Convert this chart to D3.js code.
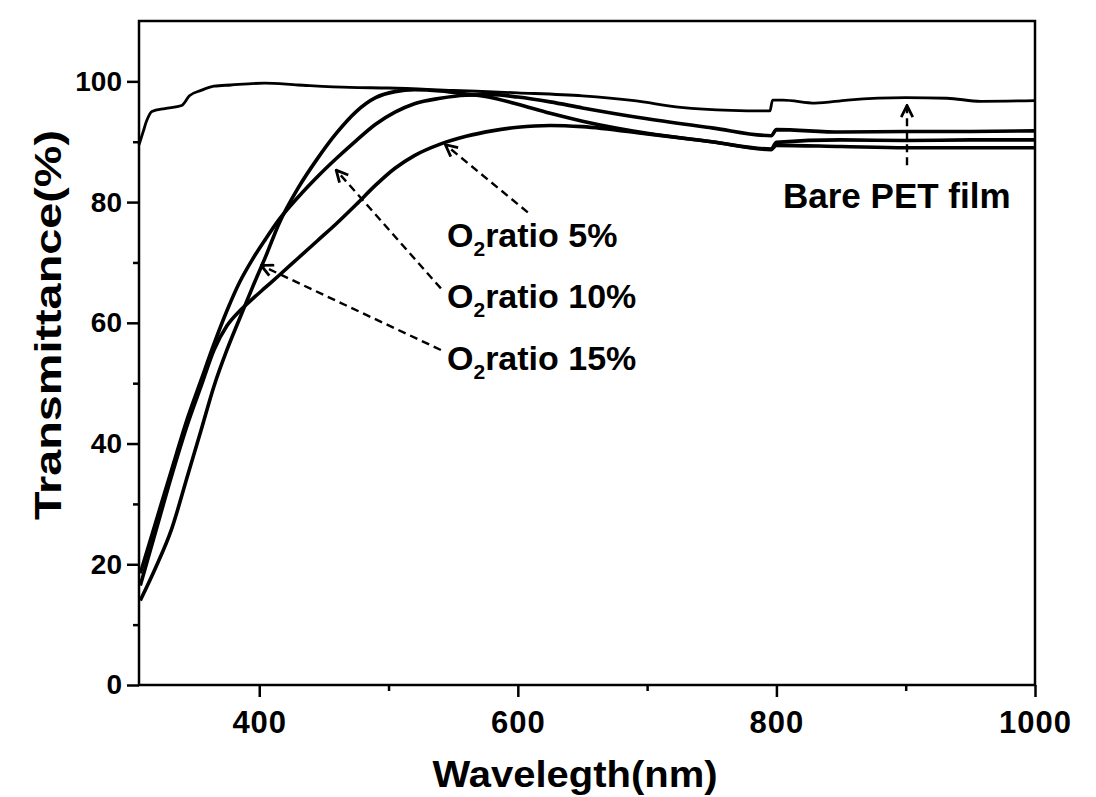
<!DOCTYPE html>
<html lang="en">
<head>
    <meta charset="UTF-8">
    <title>Transmittance of films</title>
    <script src="https://d3js.org/d3.v7.min.js"></script>
    <style>
        body { margin: 0; background: #fff; }
        text { font-family: "Liberation Sans", Arial, sans-serif; font-weight: bold; fill: #000; }
        .axis path, .axis line { stroke: #000; stroke-width: 2.5; }
        .curve { fill: none; stroke: #000; stroke-linejoin: round; }
        .pointer { fill: none; stroke: #000; stroke-width: 2.4; stroke-dasharray: 8 5; }
    </style>
</head>
<body>
    <div id="chart"></div>
    <script>
        // wavelength grid (nm) shared by the three film curves
        const wavelengths = [308, 320, 332, 345, 355, 365, 375, 385, 395, 405, 415, 430, 445, 460, 475, 490,
            505, 520, 540, 560, 580, 600, 625, 650, 700, 750, 796, 800, 850, 900, 950, 1000];
        const ratio5 = [16.5, 25.5, 34.5, 43.5, 49.5, 55.5, 59.5, 62, 64, 65.9, 67.8, 70.7, 73.6, 76.5, 79.6, 82.8,
            85.6, 87.7, 89.6, 90.9, 91.8, 92.4, 92.7, 92.5, 91.3, 90.0, 88.8, 89.9, 90.3, 90.2, 90.3, 90.3];
        const ratio10 = [18.5, 27, 35.5, 44.5, 50.5, 56.5, 62, 66.8, 70.6, 73.9, 77, 80.8, 84.2, 87.3, 90.2, 92.9,
            94.9, 96.3, 97.2, 97.7, 97.8, 97.4, 96.6, 95.6, 93.8, 92.3, 91.0, 92.0, 91.6, 91.7, 91.7, 91.8];
        const ratio15 = [14, 19.5, 25.7, 35, 42.2, 49.5, 55.5, 60.8, 66, 71, 76.3, 82.3, 87.2, 91.5, 95.0, 97.3,
            98.3, 98.6, 98.4, 97.9, 97.3, 96.2, 94.7, 93.4, 91.4, 90.0, 88.7, 89.4, 89.2, 89.0, 89.0, 89.0];

        // bare PET film has its own sampling
        const petWavelengths = [307, 310, 313, 317, 327, 340, 346, 355, 365, 378, 404, 430, 470, 500, 550, 600,
            650, 690, 726, 765, 795, 797, 805, 830, 855, 900, 932, 958, 1000];
        const petValues = [89.5, 91.5, 93.5, 95.0, 95.5, 96.0, 97.6, 98.5, 99.2, 99.4, 99.7, 99.4, 99.0, 98.9, 98.5, 98.1,
            97.6, 96.8, 95.7, 95.2, 95.1, 96.9, 96.9, 96.4, 96.9, 97.3, 97.2, 96.7, 96.8];

        const xMajorTicks = [400, 600, 800, 1000];
        const xMinorTicks = [500, 700, 900];
        const yMajorTicks = [0, 20, 40, 60, 80, 100];
        const yMinorTicks = [10, 30, 50, 70, 90];

        // dashed pointers: [wavelength, %] start and tip
        const pointerStart = [[607.7, 78.3], [540.5, 65.7], [540.5, 55.5], [901, 86.1]];
        const pointerTip = [[544, 89.5], [459.5, 85.3], [401.5, 69.5], [901, 96.0]];

        const W = 1096, H = 797;
        const svg = d3.select("#chart").append("svg")
            .attr("width", W).attr("height", H)
            .style("background", "#fff");

        const x = d3.scaleLinear().domain([307, 1000]).range([139, 1035]);
        const y = d3.scaleLinear().domain([0, 110]).range([685, 21]);

        svg.append("defs").append("marker")
            .attr("id", "head")
            .attr("viewBox", "0 0 12 12")
            .attr("refX", 11).attr("refY", 6)
            .attr("markerWidth", 14).attr("markerHeight", 14)
            .attr("markerUnits", "userSpaceOnUse")
            .attr("orient", "auto")
            .append("path")
            .attr("d", "M1,1 L11,6 L1,11")
            .attr("fill", "none").attr("stroke", "#000").attr("stroke-width", 2.4);

        // axes
        const xAxis = svg.append("g").attr("class", "axis")
            .attr("transform", `translate(0,${y(0)})`)
            .call(d3.axisBottom(x).tickValues(xMajorTicks).tickSize(12).tickFormat(d3.format("d")));
        xAxis.select(".domain").remove();
        xAxis.selectAll("text").attr("y", 48).attr("dy", 0).style("font-size", "31px").style("letter-spacing", "1px");

        const xMinor = svg.append("g").attr("class", "axis")
            .attr("transform", `translate(0,${y(0)})`)
            .call(d3.axisBottom(x).tickValues(xMinorTicks).tickSize(6).tickFormat(""));
        xMinor.select(".domain").remove();

        const yAxis = svg.append("g").attr("class", "axis")
            .attr("transform", `translate(${x(307)},0)`)
            .call(d3.axisLeft(y).tickValues(yMajorTicks).tickSize(12));
        yAxis.select(".domain").remove();
        yAxis.selectAll("text").attr("x", -17).style("font-size", "28px");

        const yMinor = svg.append("g").attr("class", "axis")
            .attr("transform", `translate(${x(307)},0)`)
            .call(d3.axisLeft(y).tickValues(yMinorTicks).tickSize(6).tickFormat(""));
        yMinor.select(".domain").remove();

        // frame
        svg.append("rect")
            .attr("x", x(307)).attr("y", y(110))
            .attr("width", x(1000) - x(307)).attr("height", y(0) - y(110))
            .attr("fill", "none").attr("stroke", "#000").attr("stroke-width", 2.5);

        // curves
        const line = d3.line()
            .x(d => x(d[0]))
            .y(d => y(d[1]))
            .curve(d3.curveMonotoneX);

        const films = [ratio5, ratio10, ratio15];
        films.forEach(vals => {
            svg.append("path")
                .attr("class", "curve")
                .attr("stroke-width", 3.6)
                .attr("d", line(wavelengths.map((w, i) => [w, vals[i]])));
        });

        svg.append("path")
            .attr("class", "curve")
            .attr("stroke-width", 2.8)
            .attr("d", line(petWavelengths.map((w, i) => [w, petValues[i]])));

        // dashed pointers
        pointerStart.forEach((s, i) => {
            svg.append("line")
                .attr("class", "pointer")
                .attr("x1", x(s[0])).attr("y1", y(s[1]))
                .attr("x2", x(pointerTip[i][0])).attr("y2", y(pointerTip[i][1]))
                .attr("marker-end", "url(#head)");
        });

        // labels
        const ratioLabels = [["5%", 247], ["10%", 308], ["15%", 370]];
        ratioLabels.forEach(([pct, base]) => {
            const t = svg.append("text")
                .attr("x", 447).attr("y", base)
                .style("font-size", "34px");
            t.append("tspan").text("O");
            t.append("tspan").attr("dy", 9).style("font-size", "21px").text("2");
            t.append("tspan").attr("dy", -9).text("ratio " + pct);
        });

        svg.append("text")
            .attr("x", 783).attr("y", 208)
            .style("font-size", "35px")
            .text("Bare PET film");

        // axis titles
        svg.append("text")
            .attr("x", 575).attr("y", 787)
            .attr("text-anchor", "middle")
            .attr("textLength", 285).attr("lengthAdjust", "spacingAndGlyphs")
            .style("font-size", "37px")
            .text("Wavelegth(nm)");

        svg.append("text")
            .attr("transform", "translate(61,325) rotate(-90)")
            .attr("text-anchor", "middle")
            .attr("textLength", 390).attr("lengthAdjust", "spacingAndGlyphs")
            .style("font-size", "37px")
            .text("Transmittance(%)");
    </script>
</body>
</html>
